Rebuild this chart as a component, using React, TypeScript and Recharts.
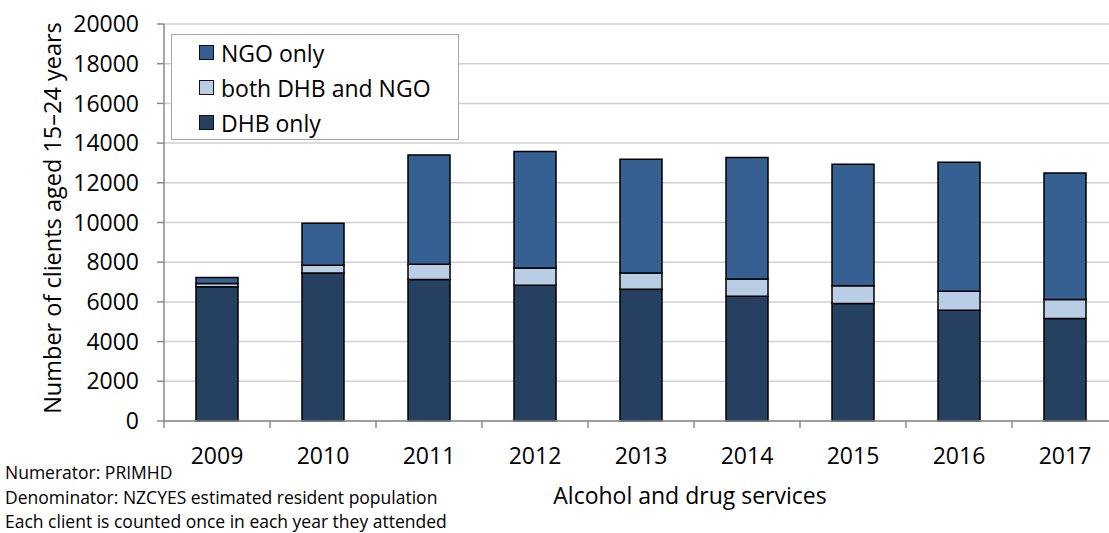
import { Bar, BarChart, CartesianGrid, XAxis, YAxis } from "recharts";

const years = ["2009", "2010", "2011", "2012", "2013", "2014", "2015", "2016", "2017"];
const dhbOnly = [6760, 7460, 7130, 6840, 6640, 6290, 5920, 5580, 5160];
const bothDhbNgo = [170, 390, 770, 870, 820, 860, 890, 960, 960];
const ngoOnly = [300, 2110, 5500, 5870, 5730, 6120, 6120, 6490, 6380];
const yTicks = [0, 2000, 4000, 6000, 8000, 10000, 12000, 14000, 16000, 18000, 20000];

const footnotes = [
  "Numerator: PRIMHD",
  "Denominator: NZCYES estimated resident population",
  "Each client is counted once in each year they attended",
];

// legend order is top-down, the reverse of the stack
const series = [
  { key: "ngo", label: "NGO only", color: "#376092" },
  { key: "both", label: "both DHB and NGO", color: "#b9cde5" },
  { key: "dhb", label: "DHB only", color: "#254061" },
];

const data = years.map((year, i) => ({
  year,
  dhb: dhbOnly[i],
  both: bothDhbNgo[i],
  ngo: ngoOnly[i],
}));

const font = "'Open Sans', 'Noto Sans', sans-serif";
const axisGrey = "#8a8a8a";

function YearTick(props: any) {
  const { x, y, payload, width, visibleTicksCount, index } = props;
  const band = width / visibleTicksCount;
  const left = x - band / 2;
  return (
    <g>
      <line x1={left} x2={left} y1={y} y2={y + 7} stroke={axisGrey} strokeWidth={1.5} />
      {index === visibleTicksCount - 1 && (
        <line x1={x + band / 2} x2={x + band / 2} y1={y} y2={y + 7} stroke={axisGrey} strokeWidth={1.5} />
      )}
      <text x={x} y={y + 43} textAnchor="middle" fontSize={23} fill="#000" fontFamily={font}>
        {payload.value}
      </text>
    </g>
  );
}

function LegendBox() {
  return (
    <div
      style={{
        position: "absolute",
        left: 171,
        top: 34,
        width: 288,
        height: 106,
        border: "1.5px solid #a6a6a6",
        background: "#fff",
        boxSizing: "border-box",
        paddingTop: 0,
        fontSize: 23,
        color: "#000",
      }}
    >
      {series.map((s) => (
        <div key={s.key} style={{ display: "flex", alignItems: "center", height: 35, paddingLeft: 27 }}>
          <span
            style={{
              display: "inline-block",
              width: 13,
              height: 13,
              background: s.color,
              border: "1px solid #111",
              marginRight: 7,
            }}
          />
          <span>{s.label}</span>
        </div>
      ))}
    </div>
  );
}

export default function App() {
  return (
    <div
      style={{
        position: "absolute",
        left: 0,
        top: 0,
        width: 1109,
        height: 533,
        overflow: "hidden",
        background: "#fff",
        fontFamily: font,
      }}
    >
      <BarChart width={1122} height={533} data={data} margin={{ top: 24, right: 4, left: 0, bottom: 0 }}>
        <CartesianGrid vertical={false} stroke="#d0d0d0" strokeWidth={1.5} />
        <XAxis
          dataKey="year"
          height={112}
          axisLine={{ stroke: axisGrey, strokeWidth: 1.5 }}
          tickLine={false}
          tickSize={0}
          tickMargin={0}
          interval={0}
          tick={<YearTick />}
        />
        <YAxis
          width={164}
          domain={[0, 20000]}
          ticks={yTicks}
          interval={0}
          axisLine={{ stroke: axisGrey, strokeWidth: 1.5 }}
          tickLine={{ stroke: axisGrey, strokeWidth: 1.5 }}
          tickSize={7}
          tickMargin={18}
          tick={{ fontSize: 23, fill: "#000", fontFamily: font }}
        />
        <Bar dataKey="dhb" name="DHB only" stackId="a" fill="#254061" stroke="#000" strokeWidth={1.5} barSize={42} isAnimationActive={false} />
        <Bar dataKey="both" name="both DHB and NGO" stackId="a" fill="#b9cde5" stroke="#000" strokeWidth={1.5} barSize={42} isAnimationActive={false} />
        <Bar dataKey="ngo" name="NGO only" stackId="a" fill="#376092" stroke="#000" strokeWidth={1.5} barSize={42} isAnimationActive={false} />
      </BarChart>

      <LegendBox />

      <div
        style={{
          position: "absolute",
          left: 52,
          top: 218,
          transform: "translate(-50%, -50%) rotate(-90deg)",
          whiteSpace: "nowrap",
          fontSize: 23.5,
          color: "#000",
        }}
      >
        Number of clients aged 15–24 years
      </div>

      <div
        style={{
          position: "absolute",
          left: 690,
          top: 495,
          transform: "translate(-50%, -50%)",
          whiteSpace: "nowrap",
          fontSize: 23,
          color: "#000",
        }}
      >
        Alcohol and drug services
      </div>

      <div style={{ position: "absolute", left: 5, top: 460, fontSize: 17.5, lineHeight: "24.5px", color: "#000" }}>
        {footnotes.map((line) => (
          <div key={line} style={{ whiteSpace: "nowrap" }}>
            {line}
          </div>
        ))}
      </div>
    </div>
  );
}
